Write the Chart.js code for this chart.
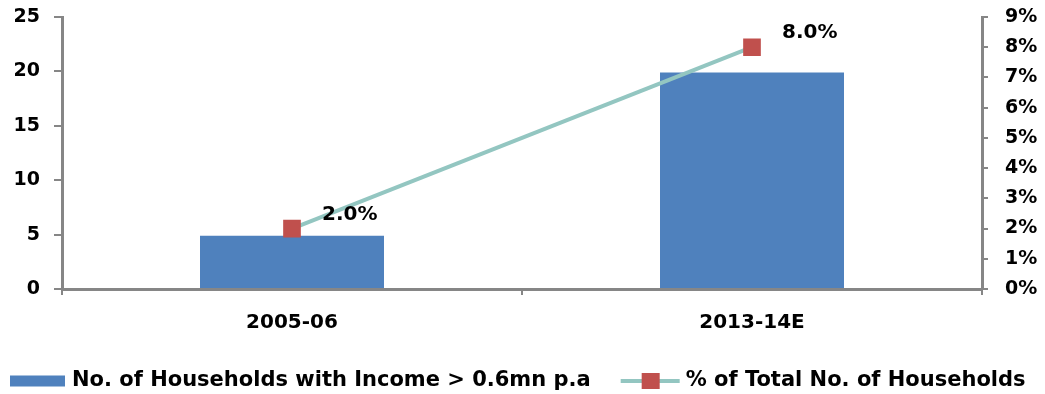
<!DOCTYPE html>
<html>
<head>
  <title>Households with Income above 0.6mn</title>
  <script src="https://cdn.jsdelivr.net/npm/chart.js"></script>
  <style>
    body {
      margin: 0;
      padding: 0;
      background: #fff;
    }
    #wrap {
      width: 1045px;
      height: 394px;
    }
  </style>
</head>
<body>
  <div id="wrap">
    <canvas id="hhChart" width="1045" height="394"></canvas>
  </div>

  <script>
    const categories = ['2005-06', '2013-14E'];
    const households = [4.9, 19.9];
    const sharePct = [2.0, 8.0];
    const leftTicks = [0, 5, 10, 15, 20, 25];
    const rightTicks = [0, 1, 2, 3, 4, 5, 6, 7, 8, 9];
    const barLabel = 'No. of Households with Income > 0.6mn p.a';
    const lineLabel = '% of Total No. of Households';

    const axisGrey = '#868686';
    const barBlue = '#4f81bd';
    const lineTeal = '#93c6c1';
    const markerRed = '#c0504d';
    const boldFont = { family: 'DejaVu Sans', weight: 'bold', size: 19 };

    // labels next to the red markers
    const pointLabels = {
      id: 'pointLabels',
      afterDatasetsDraw(chart) {
        const ctx = chart.ctx;
        const meta = chart.getDatasetMeta(0);
        ctx.save();
        ctx.font = 'bold 20px "DejaVu Sans"';
        ctx.fillStyle = '#000';
        ctx.textAlign = 'left';
        ctx.textBaseline = 'middle';
        meta.data.forEach((pt, i) => {
          ctx.fillText(sharePct[i].toFixed(1) + '%', pt.x + 30, pt.y - 14);
        });
        ctx.restore();
      }
    };

    // legend drawn by hand so the line item can show line + square
    const bottomLegend = {
      id: 'bottomLegend',
      afterDraw(chart) {
        const ctx = chart.ctx;
        const y = 381;
        ctx.save();
        ctx.font = 'bold 21px "DejaVu Sans"';
        ctx.textBaseline = 'middle';
        ctx.textAlign = 'left';

        let x = 10;
        ctx.fillStyle = barBlue;
        ctx.fillRect(x, y - 5.5, 55, 11);
        x += 62;
        ctx.fillStyle = '#000';
        ctx.fillText(barLabel, x, y);
        x += ctx.measureText(barLabel).width + 30;

        ctx.strokeStyle = lineTeal;
        ctx.lineWidth = 4;
        ctx.beginPath();
        ctx.moveTo(x, y);
        ctx.lineTo(x + 59, y);
        ctx.stroke();
        ctx.fillStyle = markerRed;
        ctx.fillRect(x + 21, y - 8, 18, 16);
        x += 65;
        ctx.fillStyle = '#000';
        ctx.fillText(lineLabel, x, y);
        ctx.restore();
      }
    };

    // keep the tick padding from pushing the plot top down
    function fixVertical(width) {
      return function (scale) {
        scale.width = width;
        scale.paddingTop = 0;
        scale.paddingBottom = 0;
      };
    }

    new Chart(document.getElementById('hhChart'), {
      data: {
        labels: categories,
        datasets: [
          {
            type: 'line',
            label: lineLabel,
            data: sharePct,
            yAxisID: 'y1',
            borderColor: lineTeal,
            borderWidth: 4,
            pointStyle: 'rect',
            pointRadius: 12.5,
            pointHoverRadius: 12.5,
            pointBackgroundColor: markerRed,
            pointBorderColor: markerRed,
            pointBorderWidth: 0,
            tension: 0,
            order: 0
          },
          {
            type: 'bar',
            label: barLabel,
            data: households,
            yAxisID: 'y',
            backgroundColor: barBlue,
            categoryPercentage: 1,
            barPercentage: 0.4,
            order: 1
          }
        ]
      },
      options: {
        responsive: false,
        animation: false,
        layout: { padding: { top: 17, left: 0, right: 0, bottom: 45 } },
        plugins: {
          legend: { display: false },
          tooltip: { enabled: false }
        },
        scales: {
          x: {
            offset: true,
            grid: { drawOnChartArea: false, offset: true, tickLength: 6, color: axisGrey, lineWidth: 2 },
            border: { color: axisGrey, width: 3 },
            ticks: { color: '#000', font: { family: 'DejaVu Sans', weight: 'bold', size: 20 }, padding: 16 },
            afterFit(scale) { scale.height = 60; }
          },
          y: {
            position: 'left',
            min: 0,
            max: 25,
            afterBuildTicks(scale) { scale.ticks = leftTicks.map(v => ({ value: v })); },
            grid: { drawOnChartArea: false, tickLength: 8, color: axisGrey, lineWidth: 2 },
            border: { color: axisGrey, width: 3 },
            ticks: { color: '#000', font: boldFont, padding: 14 },
            afterFit: fixVertical(62)
          },
          y1: {
            position: 'right',
            min: 0,
            max: 9,
            afterBuildTicks(scale) { scale.ticks = rightTicks.map(v => ({ value: v })); },
            grid: { drawOnChartArea: false, tickLength: 6, color: axisGrey, lineWidth: 2 },
            border: { color: axisGrey, width: 3 },
            ticks: { color: '#000', font: boldFont, padding: 17, callback: v => v + '%' },
            afterFit: fixVertical(63)
          }
        }
      },
      plugins: [pointLabels, bottomLegend]
    });
  </script>
</body>
</html>
